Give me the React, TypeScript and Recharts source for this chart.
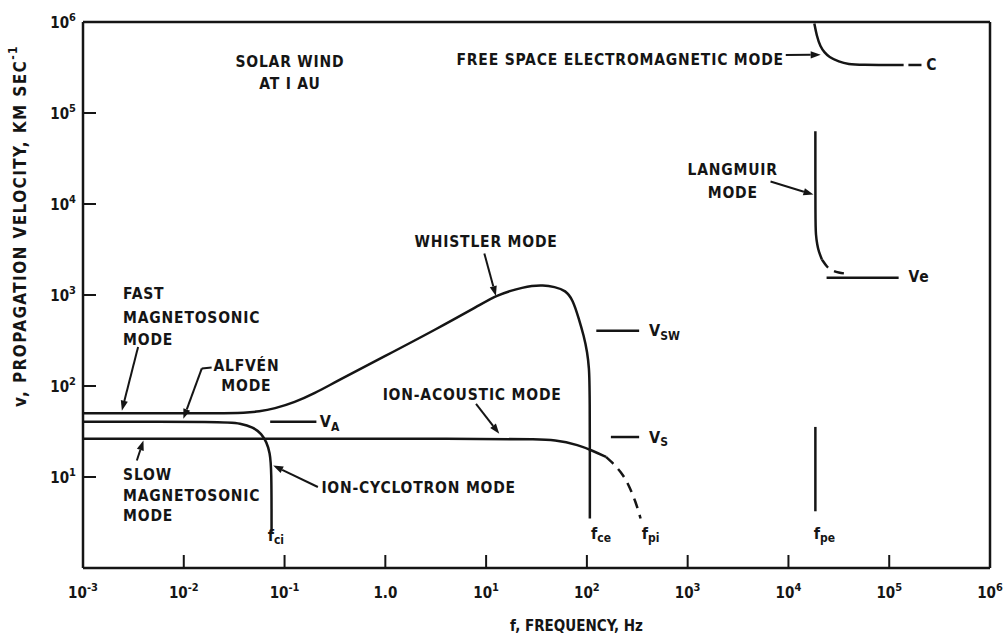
import React from 'react';
import { LineChart, Line, XAxis, YAxis, ReferenceLine, ReferenceDot, Label } from 'recharts';

const INK = '#151515';
const FONT = '"DejaVu Sans Condensed", "DejaVu Sans", sans-serif';

// decade ticks
const xTicks = [1e-3, 1e-2, 1e-1, 1, 1e1, 1e2, 1e3, 1e4, 1e5, 1e6];
const yTicks = [1e1, 1e2, 1e3, 1e4, 1e5, 1e6];
// extra ticks on the frequency axis: f_ce, f_pi, f_pe
const markTicks = [107, 378, 18500];

// fast magnetosonic -> whistler mode, cut off at f_ce
const fastF = [0.001, 0.025, 0.04, 0.056, 0.079, 0.126, 0.2, 0.316, 1, 3.16, 10, 12.6, 17.8, 22.9, 28.2, 36.3, 47.9, 61.7, 72.4, 83.2, 93.3, 101, 105, 107, 107];
const fastV = [50.1, 50.1, 50.7, 52.5, 56.2, 66.1, 83.2, 110, 214, 417, 851, 977, 1122, 1202, 1259, 1282, 1230, 1122, 891, 550, 355, 234, 158, 100, 3.5];

// alfven -> ion-cyclotron mode, cut off at f_ci
const alfF = [0.001, 0.0266, 0.0361, 0.0489, 0.0592, 0.0662, 0.0714, 0.0743, 0.0743];
const alfV = [40.5, 40.5, 38.9, 35.3, 29.8, 24.2, 18.8, 12.3, 2.5];

// slow magnetosonic -> ion-acoustic mode (solid, then dashed toward f_pi)
const iaF = [0.001, 20, 26.9, 49, 83.2, 113, 155];
const iaV = [26.3, 26.3, 26.0, 25.7, 22.4, 19.5, 16.6];
const iaDashF = [155, 178, 224, 261, 304, 341];
const iaDashV = [16.6, 14.5, 11.0, 8.1, 5.4, 3.5];

// free space electromagnetic mode
const emF = [18070, 19050, 20750, 22900, 25120, 31620, 39810, 50120, 139000];
const emV = [962000, 708000, 533000, 460000, 415000, 365000, 343000, 337000, 337000];

// langmuir mode
const lgF = [18500, 18500, 18700, 19300, 19950, 21500];
const lgV = [63100, 6310, 4570, 3550, 3020, 2450];
const lgDashF = [21500, 24000, 26900, 31600, 36700];
const lgDashV = [2450, 2040, 1860, 1760, 1720];

// f_pe marker
const fpeF = [18500, 18500];
const fpeV = [35.5, 4.2];

// characteristic speeds
const vaF = [0.072, 0.207];
const vaV = [40.5, 40.5];
const vswF = [124, 330];
const vswV = [404, 404];
const vsF = [173, 330];
const vsV = [27.5, 27.5];
const veF = [23900, 124000];
const veV = [1550, 1550];
const cF = [155000, 209000];
const cV = [337000, 337000];

const zip = (f: number[], v: number[]) => f.map((x, i) => ({ f: x, v: v[i] }));

// annotation texts (anchored in data coordinates)
const notes = [
  { t: 'SOLAR WIND', f: 0.113, v: 3.6e5, a: 'middle' },
  { t: 'AT I AU', f: 0.113, v: 2.1e5, a: 'middle' },
  { t: 'FREE SPACE ELECTROMAGNETIC MODE', f: 5.08, v: 3.8e5, a: 'start' },
  { t: 'LANGMUIR', f: 2800, v: 23800, a: 'middle' },
  { t: 'MODE', f: 2800, v: 13300, a: 'middle' },
  { t: 'WHISTLER MODE', f: 10, v: 3780, a: 'middle' },
  { t: 'FAST', f: 0.0025, v: 1020, a: 'start' },
  { t: 'MAGNETOSONIC', f: 0.0025, v: 556, a: 'start' },
  { t: 'MODE', f: 0.0025, v: 319, a: 'start' },
  { t: 'ALFVÉN', f: 0.0418, v: 166, a: 'middle' },
  { t: 'MODE', f: 0.0418, v: 100, a: 'middle' },
  { t: 'SLOW', f: 0.0025, v: 10.6, a: 'start' },
  { t: 'MAGNETOSONIC', f: 0.0025, v: 6.24, a: 'start' },
  { t: 'MODE', f: 0.0025, v: 3.77, a: 'start' },
  { t: 'ION-CYCLOTRON MODE', f: 0.232, v: 7.64, a: 'start' },
  { t: 'ION-ACOUSTIC MODE', f: 0.94, v: 79.4, a: 'start' },
  { t: 'Ve', f: 155000, v: 1560, a: 'start' },
  { t: 'C', f: 233000, v: 337000, a: 'start' },
];

const subNotes = [
  { m: 'V', s: 'A', f: 0.224, v: 40.5, a: 'start' },
  { m: 'V', s: 'SW', f: 414, v: 404, a: 'start' },
  { m: 'V', s: 'S', f: 414, v: 27.5, a: 'start' },
  { m: 'f', s: 'ci', f: 0.082, v: 2.28, a: 'middle' },
  { m: 'f', s: 'ce', f: 138, v: 2.4, a: 'middle' },
  { m: 'f', s: 'pi', f: 429, v: 2.4, a: 'middle' },
  { m: 'f', s: 'pe', f: 22750, v: 2.4, a: 'middle' },
];

// leader arrows: from (f1, v1) to the tip (f2, v2)
const arrows = [
  { f1: 9400, v1: 4.33e5, f2: 20900, v2: 4.37e5 },
  { f1: 6640, v1: 17660, f2: 17700, v2: 12680 },
  { f1: 9.6, v1: 2864, f2: 12.5, v2: 975 },
  { f1: 0.00352, v1: 268, f2: 0.00243, v2: 53.6 },
  { f1: 0.0151, v1: 156, f2: 0.0099, v2: 43.6 },
  { f1: 0.00342, v1: 15.2, f2: 0.00398, v2: 25.2 },
  { f1: 0.214, v1: 7.76, f2: 0.0771, v2: 13.4 },
  { f1: 7.94, v1: 63.5, f2: 13.5, v2: 29.9 },
];
const dashes = [{ f1: 0.0189, v1: 160, f2: 0.0151, v2: 156 }];

const txt = { fontFamily: FONT, fontWeight: 700, fill: INK } as const;

const Arrow = (p: any) => {
  const { x1, y1, x2, y2 } = p;
  const ang = Math.atan2(y2 - y1, x2 - x1);
  const L = 10;
  const W = 3.6;
  const bx = x2 - L * Math.cos(ang);
  const by = y2 - L * Math.sin(ang);
  const px = -Math.sin(ang) * W;
  const py = Math.cos(ang) * W;
  return (
    <g>
      <line x1={x1} y1={y1} x2={bx} y2={by} stroke={INK} strokeWidth={2} />
      <polygon points={`${x2},${y2} ${bx + px},${by + py} ${bx - px},${by - py}`} fill={INK} />
    </g>
  );
};

const Plain = (p: any) => <line x1={p.x1} y1={p.y1} x2={p.x2} y2={p.y2} stroke={INK} strokeWidth={2} />;

const exp = (val: number) => Math.round(Math.log10(val));

const XTick = (p: any) => {
  const e = exp(p.payload.value);
  return (
    <text x={p.x} y={p.y} textAnchor="middle" {...txt} fontSize={15}>
      {e === 0 ? '1.0' : (
        <>
          10<tspan dy={-7} fontSize={11}>{e}</tspan>
        </>
      )}
    </text>
  );
};

const YTick = (p: any) => (
  <text x={p.x} y={p.y + 6} textAnchor="end" {...txt} fontSize={15}>
    10<tspan dy={-7} fontSize={11}>{exp(p.payload.value)}</tspan>
  </text>
);

const line = (data: { f: number; v: number }[], key: string, dashed = false, type: any = 'basis') => (
  <Line
    key={key}
    data={data}
    dataKey="v"
    type={type}
    stroke={INK}
    strokeWidth={2.5}
    strokeDasharray={dashed ? '10 7' : undefined}
    dot={false}
    activeDot={false}
    isAnimationActive={false}
  />
);

export default function App() {
  const axisLine = { stroke: INK, strokeWidth: 2.5 };
  const tickLine = { stroke: INK, strokeWidth: 2 };
  return (
    <div style={{ position: 'absolute', left: 0, top: 0, background: '#fff' }}>
      <LineChart width={1003} height={637} margin={{ top: 21, right: 12, bottom: 67, left: 8 }}>
        <XAxis
          dataKey="f"
          type="number"
          scale="log"
          domain={[1e-3, 1e6]}
          allowDataOverflow
          ticks={xTicks}
          height={1}
          axisLine={axisLine}
          tickLine={tickLine}
          tickSize={-13}
          tickMargin={43}
          tick={<XTick />}
          interval={0}
        >
          <Label
            content={({ viewBox }: any) => (
              <text x={viewBox.x + viewBox.width / 2 + 40} y={viewBox.y + 63} textAnchor="middle" {...txt} fontSize={15}>
                f, FREQUENCY, Hz
              </text>
            )}
          />
        </XAxis>
        <XAxis
          xAxisId="marks"
          dataKey="f"
          type="number"
          scale="log"
          domain={[1e-3, 1e6]}
          allowDataOverflow
          ticks={markTicks}
          height={1}
          axisLine={false}
          tickLine={tickLine}
          tickSize={-19}
          tick={false}
          interval={0}
        />
        <XAxis
          xAxisId="top"
          orientation="top"
          dataKey="f"
          type="number"
          scale="log"
          domain={[1e-3, 1e6]}
          allowDataOverflow
          ticks={xTicks}
          height={1}
          axisLine={axisLine}
          tickLine={tickLine}
          tickSize={-13}
          tick={false}
          interval={0}
        />
        <YAxis
          type="number"
          scale="log"
          domain={[1, 1e6]}
          allowDataOverflow
          ticks={yTicks}
          width={75}
          axisLine={axisLine}
          tickLine={tickLine}
          tickSize={-13}
          tickMargin={20}
          tick={<YTick />}
          interval={0}
        >
          <Label
            content={({ viewBox }: any) => {
              const cx = viewBox.x + 12;
              const cy = viewBox.y + 204;
              return (
                <text
                  x={cx}
                  y={cy}
                  transform={`rotate(-90 ${cx} ${cy})`}
                  textAnchor="middle"
                  dominantBaseline="central"
                  {...txt}
                  fontSize={17}
                  letterSpacing={1.4}
                >
                  v, PROPAGATION VELOCITY, KM SEC<tspan dy={-7} fontSize={12}>-1</tspan>
                </text>
              );
            }}
          />
        </YAxis>
        <YAxis
          yAxisId="right"
          orientation="right"
          type="number"
          scale="log"
          domain={[1, 1e6]}
          allowDataOverflow
          ticks={yTicks}
          width={1}
          axisLine={axisLine}
          tickLine={tickLine}
          tickSize={-13}
          tick={false}
          interval={0}
        />

        {line(zip(fastF, fastV), 'fast')}
        {line(zip(alfF, alfV), 'alfven')}
        {line(zip(iaF, iaV), 'ia')}
        {line(zip(iaDashF, iaDashV), 'iaDash', true)}
        {line(zip(emF, emV), 'em')}
        {line(zip(lgF, lgV), 'lg')}
        {line(zip(lgDashF, lgDashV), 'lgDash', true)}
        {line(zip(fpeF, fpeV), 'fpe', false, 'linear')}
        {line(zip(vaF, vaV), 'va', false, 'linear')}
        {line(zip(vswF, vswV), 'vsw', false, 'linear')}
        {line(zip(vsF, vsV), 'vs', false, 'linear')}
        {line(zip(veF, veV), 've', false, 'linear')}
        {line(zip(cF, cV), 'c', false, 'linear')}

        {arrows.map((a, i) => (
          <ReferenceLine key={`ar${i}`} segment={[{ x: a.f1, y: a.v1 }, { x: a.f2, y: a.v2 }]} shape={Arrow} ifOverflow="visible" />
        ))}
        {dashes.map((a, i) => (
          <ReferenceLine key={`ds${i}`} segment={[{ x: a.f1, y: a.v1 }, { x: a.f2, y: a.v2 }]} shape={Plain} ifOverflow="visible" />
        ))}

        {notes.map((n, i) => (
          <ReferenceDot
            key={`n${i}`}
            x={n.f}
            y={n.v}
            ifOverflow="visible"
            shape={(p: any) => (
              <text x={p.cx} y={p.cy} textAnchor={n.a as any} dominantBaseline="central" {...txt} fontSize={15.5} letterSpacing={0.8}>
                {n.t}
              </text>
            )}
          />
        ))}
        {subNotes.map((n, i) => (
          <ReferenceDot
            key={`s${i}`}
            x={n.f}
            y={n.v}
            ifOverflow="visible"
            shape={(p: any) => (
              <text x={p.cx} y={p.cy} textAnchor={n.a as any} dominantBaseline="central" {...txt} fontSize={16}>
                {n.m}
                <tspan dy={5} fontSize={12}>{n.s}</tspan>
              </text>
            )}
          />
        ))}
      </LineChart>
    </div>
  );
}
